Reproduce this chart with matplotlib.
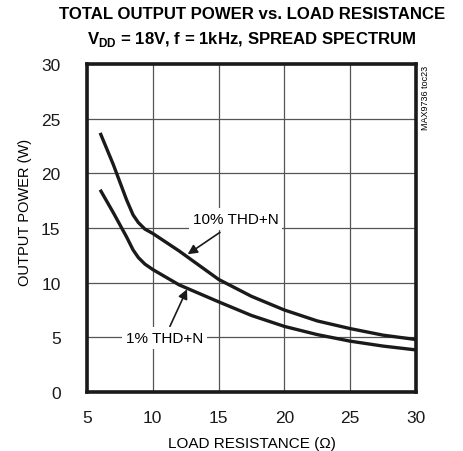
import matplotlib
matplotlib.use("Agg")
import matplotlib.pyplot as plt

plt.rcParams['font.family'] = ['Liberation Sans', 'DejaVu Sans']
plt.rcParams['mathtext.fontset'] = 'custom'
plt.rcParams['mathtext.rm'] = 'Liberation Sans'
plt.rcParams['mathtext.bf'] = 'Liberation Sans:bold'

# data
load = [6, 7, 8, 8.5, 8.9, 9.4, 10, 12, 15, 17.5, 20, 22.5, 25, 27.5, 30]
p_10 = [23.7, 20.8, 17.6, 16.2, 15.5, 14.9, 14.5, 12.9, 10.3, 8.75, 7.5, 6.5, 5.8, 5.2, 4.8]
p_1 = [18.5, 16.4, 14.2, 13.0, 12.3, 11.7, 11.2, 9.8, 8.25, 7.0, 6.0, 5.25, 4.65, 4.2, 3.85]

x_ticks = [5, 10, 15, 20, 25, 30]
y_ticks = [0, 5, 10, 15, 20, 25, 30]

fig = plt.figure(figsize=(4.63, 4.52), dpi=100)
ax = fig.add_axes([0.1879, 0.1305, 0.7106, 0.7257])

ax.plot(load, p_10, color="#1a1a1a", lw=2.4, solid_capstyle="butt", zorder=3)
ax.plot(load, p_1, color="#1a1a1a", lw=2.4, solid_capstyle="butt", zorder=3)

ax.set_xlim(5, 30)
ax.set_ylim(0, 30)
ax.set_xticks(x_ticks)
ax.set_yticks(y_ticks)
ax.grid(True, color="#555555", lw=0.9)
ax.set_axisbelow(True)
ax.tick_params(length=0, labelsize=12.5, colors="#1a1a1a")
ax.tick_params(axis="y", pad=19)
ax.tick_params(axis="x", pad=13)
for s in ax.spines.values():
    s.set_linewidth(2.6)
    s.set_color("#1a1a1a")

ax.set_xlabel("LOAD RESISTANCE (Ω)", fontsize=11, labelpad=8)
ax.set_ylabel("OUTPUT POWER (W)", fontsize=10.5)
ax.yaxis.set_label_coords(-0.168, 0.552)

box = dict(boxstyle="square,pad=0.25", fc="white", ec="none")
arrow = dict(arrowstyle="-|>", color="#1a1a1a", lw=1.2, mutation_scale=14, shrinkA=0, shrinkB=0)
ax.annotate("", xy=(12.65, 12.6), xytext=(15.1, 14.6), arrowprops=arrow, zorder=4)
ax.text(16.3, 15.8, "10% THD+N", fontsize=11, ha="center", va="center", bbox=box, zorder=5)
ax.annotate("", xy=(12.6, 9.4), xytext=(11.3, 6.0), arrowprops=arrow, zorder=4)
ax.text(10.9, 4.95, "1% THD+N", fontsize=11, ha="center", va="center", bbox=box, zorder=5)

fig.text(0.544, 0.967, "TOTAL OUTPUT POWER vs. LOAD RESISTANCE", fontsize=12.1,
         fontweight="bold", ha="center", va="center")
fig.text(0.544, 0.912, r"V$_{\mathbf{DD}}$ = 18V, f = 1kHz, SPREAD SPECTRUM", fontsize=12.1,
         fontweight="bold", ha="center", va="center")
fig.text(0.918, 0.783, "MAX9736 toc23", fontsize=6.5, rotation=90, ha="center", va="center")

fig.savefig("out.png", dpi=100)
